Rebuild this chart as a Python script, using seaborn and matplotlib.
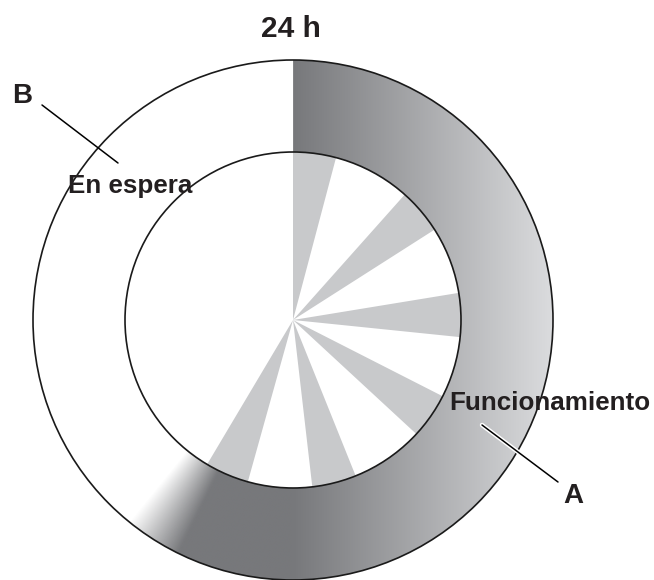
import numpy as np
import matplotlib
matplotlib.use("Agg")
import matplotlib.pyplot as plt
import matplotlib.patheffects as pe
from matplotlib.patches import Wedge, Circle
import seaborn as sns

sns.set_theme(style="white")
plt.rcParams['font.family'] = ['Liberation Sans', 'DejaVu Sans']

# datos: ciclo de 24 h (horas)
titulo = "24 h"
horas_total = 24
funcionamiento_fin_h = 14.6      # fin del anillo gris (con difuminado)
difuminado_h = 0.85
ciclos_inicio_h = [0.0, 2.78, 5.38, 7.8, 10.54, 13.04]
ciclos_fin_h = [0.99, 3.83, 6.39, 8.85, 11.56, 14.05]
etiqueta_a = "Funcionamiento"
etiqueta_b = "En espera"

cx, cy = 293, 320
R, r = 260, 168
texto_col = "#231f20"


def grados(h):
    return h / horas_total * 360.0


fig = plt.figure(figsize=(6.54, 5.80), dpi=100)
ax = fig.add_axes([0, 0, 1, 1])

# anillo con degradado horizontal + difuminado al final
n = 700
xs = np.linspace(cx - R, cx + R, n)
ys = np.linspace(cy - R, cy + R, n)
X, Y = np.meshgrid(xs, ys)
t = np.clip((X - cx) / R, 0, 1)
oscuro = np.array([0x77, 0x78, 0x7b]) / 255
claro = np.array([0xdb, 0xdc, 0xde]) / 255
img = np.zeros((n, n, 4))
for k in range(3):
    img[..., k] = oscuro[k] + (claro[k] - oscuro[k]) * t
ang = np.degrees(np.arctan2(X - cx, -(Y - cy))) % 360
fin = grados(funcionamiento_fin_h)
ancho = grados(difuminado_h)
img[..., 3] = np.clip((fin - ang) / ancho, 0, 1)

anillo = Wedge((cx, cy), R, -90, fin - 90, width=R - r, facecolor="none", edgecolor="none")
ax.add_patch(anillo)
im = ax.imshow(img, extent=(cx - R, cx + R, cy + R, cy - R), origin="upper",
               interpolation="bilinear", zorder=1)
im.set_clip_path(anillo)

# sectores interiores
for h0, h1 in zip(ciclos_inicio_h, ciclos_fin_h):
    ax.add_patch(Wedge((cx, cy), r, grados(h0) - 90, grados(h1) - 90,
                       facecolor="#c8c9cb", edgecolor="none", zorder=2))

# contornos
ax.add_patch(Circle((cx, cy), R, fill=False, edgecolor="#1a1a1a", lw=1.2, zorder=3))
ax.add_patch(Circle((cx, cy), r, fill=False, edgecolor="#1a1a1a", lw=1.2, zorder=3))

# textos y líneas de referencia
ax.text(291, 37, titulo, ha="center", va="baseline", fontsize=21.5,
        fontweight="bold", color=texto_col, zorder=5)
ax.plot([42, 118], [105, 163], color="black", lw=1.1, zorder=4)
ax.text(22, 103, "B", ha="center", va="baseline", fontsize=20,
        fontweight="bold", color=texto_col, zorder=5)
ax.text(130, 193, etiqueta_b, ha="center", va="baseline", fontsize=18.7,
        fontweight="bold", color=texto_col, zorder=5)
ax.plot([482, 558], [425, 482], color="black", lw=1.1, zorder=4,
        path_effects=[pe.withStroke(linewidth=3.2, foreground="white")])
ax.text(550, 410, etiqueta_a, ha="center", va="baseline", fontsize=18.7,
        fontweight="bold", color=texto_col, zorder=5)
ax.text(573.5, 503, "A", ha="center", va="baseline", fontsize=20,
        fontweight="bold", color=texto_col, zorder=5)

ax.set_xlim(0, 654)
ax.set_ylim(580, 0)
ax.set_aspect("equal")
ax.axis("off")

fig.savefig("out.png", dpi=100, facecolor="white")
